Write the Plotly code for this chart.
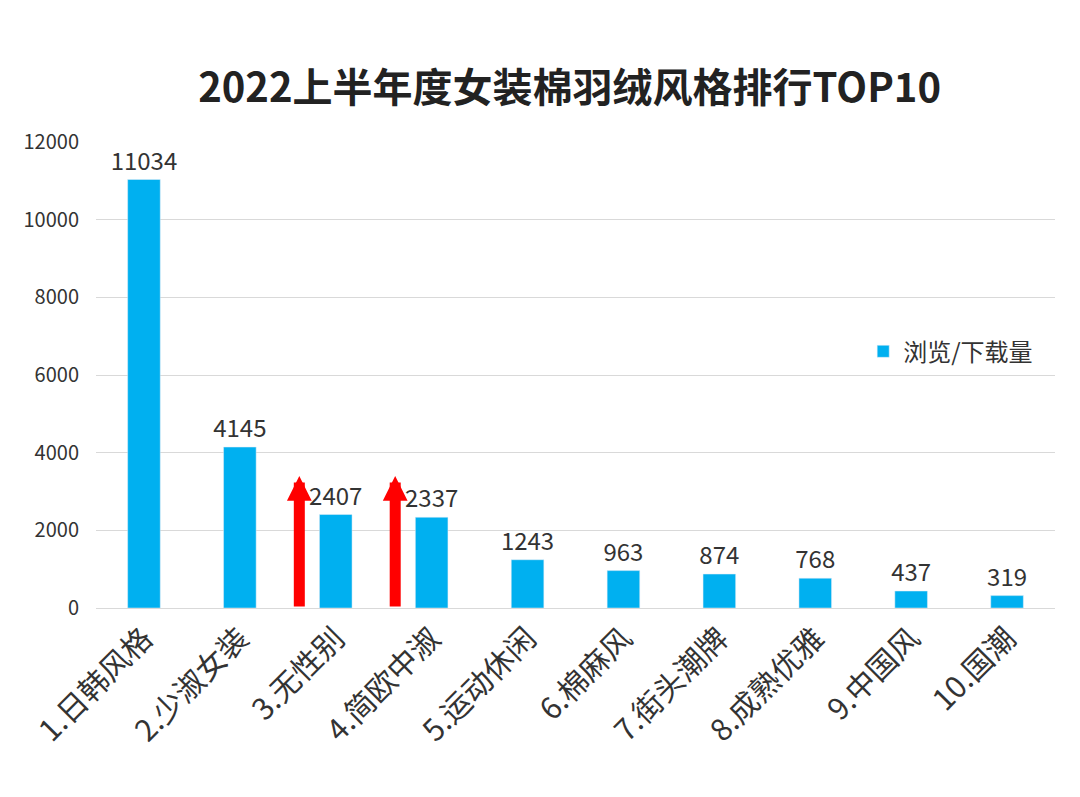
import plotly.graph_objects as go

categories = ["1.日韩风格", "2.少淑女装", "3.无性别", "4.简欧中淑", "5.运动休闲",
              "6.棉麻风", "7.街头潮牌", "8.成熟优雅", "9.中国风", "10.国潮"]
values = [11034, 4145, 2407, 2337, 1243, 963, 874, 768, 437, 319]
arrow_cats = [2, 3]
arrow_top = 3400

font = "Noto Sans CJK SC"
xs = list(range(len(categories)))
fig = go.Figure(go.Bar(
    x=xs, y=values, name="浏览/下载量", marker_color="#00B0F0", width=0.34,
    text=[str(v) for v in values], textposition="outside", cliponaxis=False,
    textfont=dict(size=24, color="#333", family=font)))

for c in arrow_cats:
    fig.add_annotation(x=c - 0.38, y=arrow_top, ax=c - 0.38, ay=0, xref="x", yref="y",
                       axref="x", ayref="y", showarrow=True, arrowhead=2,
                       arrowwidth=11, arrowsize=0.45, arrowcolor="#FF0000", text="")

fig.update_layout(
    width=1080, height=797, plot_bgcolor="white", paper_bgcolor="white",
    margin=dict(l=88, r=33, t=134, b=197),
    uniformtext=dict(minsize=24, mode="show"),
    title=dict(text="<b>2022上半年度女装棉羽绒风格排行TOP10</b>", x=0.52, y=0.9,
               xanchor="center", yanchor="middle", font=dict(size=40, color="#222", family=font)),
    showlegend=True,
    legend=dict(x=0.8, y=0.55, xanchor="left", yanchor="middle",
                font=dict(size=24, color="#333", family=font)),
    xaxis=dict(tickmode="array", tickvals=xs, ticktext=categories, tickangle=-45,
               range=[-0.5, 9.5], tickfont=dict(size=30, color="#333", family=font),
               showline=True, linecolor="#d9d9d9", showgrid=False),
    yaxis=dict(range=[0, 12000], dtick=2000, tickformat="d", gridcolor="#d9d9d9", zeroline=False,
               tickfont=dict(size=20, color="#333", family=font), ticklabelstandoff=16),
)
fig.write_html("out.html")
